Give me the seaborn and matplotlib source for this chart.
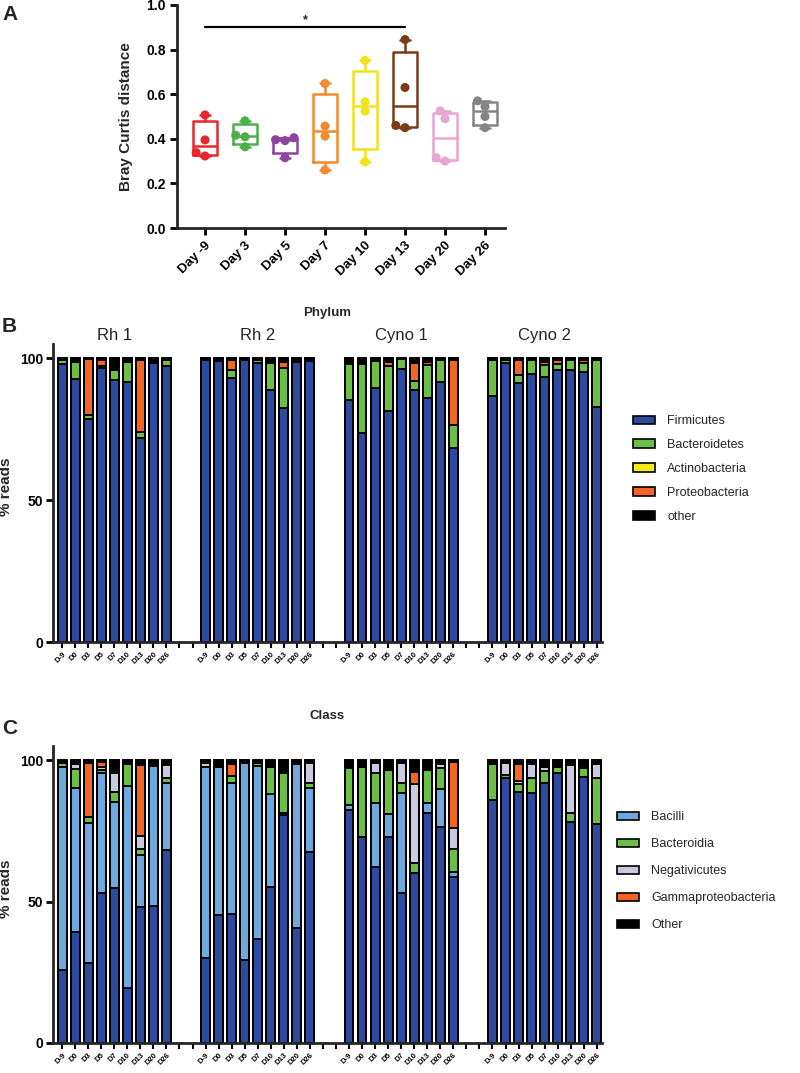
import matplotlib
matplotlib.use('Agg')
import matplotlib.pyplot as plt
from matplotlib.patches import Patch
import numpy as np
import pandas as pd
import seaborn as sns

sns.set_theme(style='ticks')
plt.rcParams['font.family'] = ['Liberation Sans', 'DejaVu Sans']

# ---------------- panel A: Bray Curtis distance ----------------
days_a = ['Day -9', 'Day 3', 'Day 5', 'Day 7', 'Day 10', 'Day 13', 'Day 20', 'Day 26']
colors_a = ['#E8262B', '#4DAF4A', '#8E44A0', '#F28A2E', '#F0E31C', '#7A3B1B', '#E8A6D2', '#858585']
bc_day_m9 = [0.507, 0.395, 0.338, 0.323]
bc_day_3 = [0.481, 0.416, 0.409, 0.364]
bc_day_5 = [0.405, 0.396, 0.392, 0.315]
bc_day_7 = [0.648, 0.457, 0.412, 0.260]
bc_day_10 = [0.752, 0.566, 0.524, 0.297]
bc_day_13 = [0.845, 0.630, 0.460, 0.450]
bc_day_20 = [0.525, 0.490, 0.315, 0.300]
bc_day_26 = [0.570, 0.545, 0.500, 0.450]

# ---------------- panels B / C: stacked composition ----------------
animals = ['Rh 1', 'Rh 2', 'Cyno 1', 'Cyno 2']
days_bc = ['D-9', 'D0', 'D3', 'D5', 'D7', 'D10', 'D13', 'D20', 'D26']

# Phylum (% reads), 9 days per animal in order Rh 1, Rh 2, Cyno 1, Cyno 2
firmicutes = [98.0, 92.5, 78.5, 96.5, 92.3, 91.5, 71.7, 98.4, 97.2,
              99.2, 99.0, 93.0, 99.3, 98.2, 88.7, 82.3, 98.5, 98.8,
              85.2, 73.7, 89.5, 81.2, 96.3, 88.7, 85.8, 91.7, 68.2,
              86.6, 98.1, 91.3, 94.5, 93.4, 95.8, 95.8, 95.2, 82.9]
bacteroidetes = [1.2, 6.0, 1.4, 0.7, 3.6, 7.2, 2.4, 0.6, 2.1,
                 0.0, 0.0, 2.7, 0.0, 1.0, 9.4, 14.1, 0.8, 0.3,
                 12.7, 24.2, 9.3, 15.9, 3.2, 3.3, 11.7, 7.6, 8.2,
                 12.7, 1.2, 2.7, 4.8, 4.1, 2.2, 3.5, 2.9, 16.4]
actinobacteria = [0.0, 0.0, 0.0, 0.0, 0.0, 0.0, 0.0, 0.0, 0.0,
                  0.0, 0.0, 0.0, 0.0, 0.0, 0.0, 0.0, 0.0, 0.0,
                  0.0, 0.0, 0.0, 0.0, 0.0, 0.0, 0.0, 0.0, 0.0,
                  0.0, 0.0, 0.0, 0.0, 0.0, 0.0, 0.0, 0.0, 0.0]
proteobacteria = [0.0, 0.0, 19.7, 2.0, 0.0, 0.0, 25.2, 0.0, 0.0,
                  0.0, 0.0, 3.6, 0.0, 0.0, 0.0, 2.1, 0.0, 0.0,
                  0.0, 0.0, 0.0, 1.5, 0.0, 6.1, 1.2, 0.0, 22.9,
                  0.0, 0.0, 5.3, 0.0, 1.2, 1.2, 0.0, 1.2, 0.0]
other_phylum = [0.8, 1.5, 0.4, 0.8, 4.1, 1.3, 0.7, 1.0, 0.7,
                0.8, 1.0, 0.7, 0.7, 0.8, 1.9, 1.5, 0.7, 0.9,
                2.1, 2.1, 1.2, 1.4, 0.5, 1.9, 1.3, 0.7, 0.7,
                0.7, 0.7, 0.7, 0.7, 1.3, 0.8, 0.7, 0.7, 0.7]

# Class (% reads); the dark blue base class has no legend entry in the figure
clostridia = [25.8, 39.3, 28.2, 52.9, 54.9, 19.5, 48.2, 48.4, 68.2,
              29.9, 45.2, 45.5, 29.3, 36.6, 55.2, 80.6, 40.5, 67.6,
              82.3, 72.7, 62.3, 72.9, 53.1, 60.0, 81.4, 76.4, 58.8,
              85.9, 93.5, 88.8, 88.4, 92.0, 95.3, 78.2, 93.9, 77.4]
bacilli = [71.6, 50.7, 49.4, 42.5, 30.4, 71.3, 18.2, 49.5, 23.6,
           67.7, 52.4, 46.5, 69.8, 61.3, 32.8, 0.5, 58.1, 22.4,
           1.8, 0.0, 22.6, 7.9, 35.1, 0.0, 3.3, 13.2, 1.7,
           0.0, 0.0, 0.0, 0.0, 0.0, 0.0, 0.0, 0.0, 0.0]
bacteroidia = [1.4, 6.7, 2.2, 1.0, 3.5, 7.8, 2.0, 0.7, 1.7,
               0.0, 0.0, 2.3, 0.0, 1.2, 9.6, 14.2, 0.7, 1.8,
               13.0, 24.9, 10.4, 15.7, 3.8, 3.5, 11.8, 7.5, 7.9,
               12.7, 1.2, 2.7, 5.1, 4.2, 2.3, 3.2, 3.2, 16.1]
negativicutes = [0.0, 1.9, 0.0, 1.0, 6.5, 0.0, 4.7, 0.7, 4.7,
                 1.4, 0.0, 0.0, 0.0, 0.0, 0.0, 0.0, 0.0, 7.0,
                 0.0, 0.0, 3.5, 0.0, 6.8, 28.0, 0.0, 1.5, 7.5,
                 0.0, 4.1, 1.2, 5.1, 1.4, 0.0, 16.8, 0.8, 5.1]
gammaproteobacteria = [0.0, 0.0, 19.2, 2.0, 0.0, 0.0, 25.1, 0.0, 0.0,
                       0.0, 0.0, 4.3, 0.0, 0.0, 0.0, 0.8, 0.0, 0.0,
                       0.0, 0.0, 0.0, 0.0, 0.0, 4.4, 0.0, 0.0, 23.5,
                       0.0, 0.0, 5.9, 0.0, 0.0, 0.0, 0.0, 0.0, 0.0]
other_class = [1.2, 1.4, 1.0, 0.6, 4.7, 1.4, 1.8, 0.7, 1.8,
               1.0, 2.4, 1.4, 0.9, 0.9, 2.4, 3.9, 0.7, 1.2,
               2.9, 2.4, 1.2, 3.5, 1.2, 4.1, 3.5, 1.4, 0.6,
               1.4, 1.2, 1.4, 1.4, 2.4, 2.4, 1.8, 2.1, 1.4]

phylum_names = ['Firmicutes', 'Bacteroidetes', 'Actinobacteria', 'Proteobacteria', 'other']
phylum_colors = ['#2E4A9E', '#6DBE45', '#F5EB14', '#F26522', '#000000']
class_names = ['Clostridia', 'Bacilli', 'Bacteroidia', 'Negativicutes', 'Gammaproteobacteria', 'Other']
class_colors = ['#2E4A9E', '#6FA8DC', '#6DBE45', '#C9C9E2', '#F26522', '#000000']

W, H = 800, 1073
fig = plt.figure(figsize=(W / 100, H / 100), dpi=100)


def fx(px):
    return px / W


def fy(py):
    return 1 - py / H


# ---------------- A ----------------
ax_a = fig.add_axes([fx(177), fy(228), fx(505 - 177), 223 / H])
bc_values = [bc_day_m9, bc_day_3, bc_day_5, bc_day_7, bc_day_10, bc_day_13, bc_day_20, bc_day_26]
df_a = pd.DataFrame({
    'day': np.repeat(days_a, [len(v) for v in bc_values]),
    'dist': np.concatenate(bc_values),
})
sns.swarmplot(data=df_a, x='day', y='dist', hue='day', order=days_a, hue_order=days_a,
              palette=colors_a, size=6.5, legend=False, ax=ax_a, zorder=3)
for i, vals in enumerate(bc_values):
    # GraphPad style quartiles ((n+1) method), whiskers min to max
    q1, med, q3 = np.percentile(vals, [25, 50, 75], method='weibull')
    st = dict(med=med, q1=q1, q3=q3, whislo=min(vals), whishi=max(vals))
    lp = dict(color=colors_a[i], linewidth=1.8)
    ax_a.bxp([st], positions=[i], widths=0.62, capwidths=0.25, showfliers=False,
             manage_ticks=False, boxprops=lp, whiskerprops=lp, capprops=lp, medianprops=lp)
ax_a.plot([0, 5], [0.9, 0.9], color='black', lw=1.6)
ax_a.text(2.5, 0.905, '*', ha='center', va='bottom', fontsize=9, fontweight='bold')
ax_a.set_xlim(-0.7, 7.5)
ax_a.set_ylim(0, 1.0)
ax_a.set_yticks(np.arange(0, 1.01, 0.2))
ax_a.set_yticklabels([f'{t:.1f}' for t in np.arange(0, 1.01, 0.2)], fontsize=10, fontweight='bold')
ax_a.set_xticks(range(len(days_a)))
ax_a.set_xticklabels(days_a, rotation=45, ha='right', rotation_mode='anchor',
                     fontsize=9.5, fontweight='bold')
ax_a.set_xlabel('')
ax_a.set_ylabel('Bray Curtis distance', fontsize=11, fontweight='bold')
ax_a.yaxis.set_label_coords(-0.134, 0.5)
sns.despine(ax=ax_a)
for s in ['left', 'bottom']:
    ax_a.spines[s].set_linewidth(2)
ax_a.tick_params(width=2, length=5, colors='black', pad=3)

# ---------------- B / C ----------------
slot_order, slot_labels = [], []
for g, animal in enumerate(animals):
    for d in days_bc:
        slot_order.append(f'{animal} {d}')
        slot_labels.append(d)
    if g < len(animals) - 1:
        for k in range(2):
            slot_order.append(f'gap {g} {k}')
            slot_labels.append('')
bar_slots = [f'{a} {d}' for a in animals for d in days_bc]


def stacked(ax, layers, colors):
    cum = np.cumsum(np.array(layers), axis=0)
    for k in range(len(layers) - 1, -1, -1):
        sns.barplot(x=bar_slots, y=cum[k], order=slot_order, color=colors[k], saturation=1,
                    width=0.68, edgecolor='black', linewidth=1.4, errorbar=None, ax=ax)
    ax.set_xlim(-0.7, 41.4)
    ax.set_ylim(0, 105)
    ax.set_yticks([0, 50, 100])
    ax.set_yticklabels(['0', '50', '100'], fontsize=10, fontweight='bold')
    ax.set_xticks(range(len(slot_order)))
    ax.set_xticklabels(slot_labels, rotation=45, ha='right', rotation_mode='anchor',
                       fontsize=5.5, fontweight='bold')
    ax.set_xlabel('')
    ax.set_ylabel('% reads', fontsize=11, fontweight='bold')
    ax.yaxis.set_label_coords(-0.072, 0.52)
    sns.despine(ax=ax)
    for s in ['left', 'bottom']:
        ax.spines[s].set_linewidth(2)
    ax.tick_params(axis='y', width=2, length=5, colors='black', pad=2)
    ax.tick_params(axis='x', width=1.5, length=4, colors='black', pad=2)


ax_b = fig.add_axes([fx(53), fy(642), fx(602 - 53), 105 * 2.84 / H])
stacked(ax_b, [firmicutes, bacteroidetes, actinobacteria, proteobacteria, other_phylum], phylum_colors)
for animal in animals:
    centre = slot_order.index(f'{animal} D7')
    ax_b.text(centre, 108, animal, ha='center', va='center', fontsize=12)
handles_b = [Patch(facecolor=c, edgecolor='black', linewidth=1.2) for c in phylum_colors]
ax_b.legend(handles_b, phylum_names, loc='upper left', bbox_to_anchor=(fx(622), fy(404)),
            bbox_transform=fig.transFigure, frameon=False, fontsize=9, handlelength=1.7,
            handleheight=0.7, labelspacing=0.95, handletextpad=1.0)

ax_c = fig.add_axes([fx(53), fy(1043), fx(602 - 53), 105 * 2.83 / H])
stacked(ax_c, [clostridia, bacilli, bacteroidia, negativicutes, gammaproteobacteria, other_class],
        class_colors)
handles_c = [Patch(facecolor=c, edgecolor='black', linewidth=1.2) for c in class_colors[1:]]
ax_c.legend(handles_c, class_names[1:], loc='upper left', bbox_to_anchor=(fx(606), fy(800)),
            bbox_transform=fig.transFigure, frameon=False, fontsize=9, handlelength=1.7,
            handleheight=0.7, labelspacing=1.2, handletextpad=1.0)

# titles and panel letters
fig.text(fx(327), fy(313), 'Phylum', ha='center', va='center', fontsize=9.5, fontweight='bold')
fig.text(fx(327), fy(716), 'Class', ha='center', va='center', fontsize=9.5, fontweight='bold')
fig.text(fx(2), fy(15), 'A', ha='left', va='center', fontsize=15, fontweight='bold')
fig.text(fx(2), fy(326), 'B', ha='left', va='center', fontsize=15, fontweight='bold')
fig.text(fx(2), fy(728), 'C', ha='left', va='center', fontsize=15, fontweight='bold')

fig.savefig('out.png', dpi=100)
